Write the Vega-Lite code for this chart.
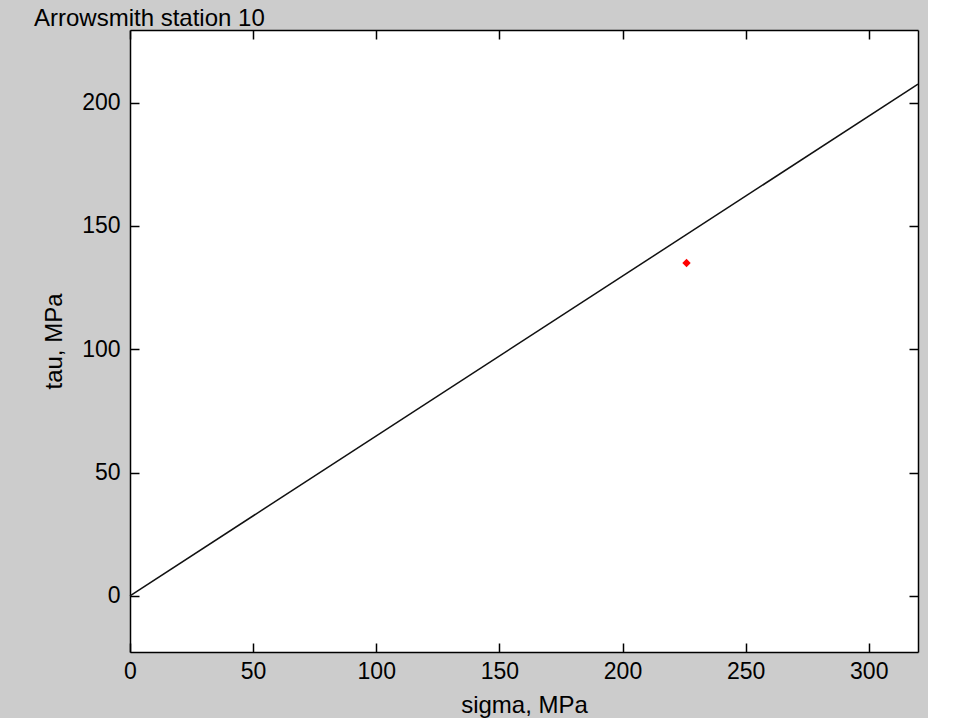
{
  "$schema": "https://vega.github.io/schema/vega-lite/v6.json",
  "width": 788,
  "height": 622,
  "autosize": {"type": "none"},
  "padding": {"left": 130, "top": 30, "right": 10, "bottom": 66},
  "background": "#cccccc",
  "title": {
    "text": "Arrowsmith station 10",
    "anchor": "start",
    "frame": "group",
    "dx": -96,
    "dy": 24,
    "offset": 3,
    "baseline": "alphabetic",
    "font": "Liberation Sans",
    "fontSize": 24,
    "fontWeight": "normal",
    "color": "#000000"
  },
  "config": {
    "view": {"fill": "white", "stroke": null},
    "axis": {
      "grid": false,
      "labelFlush": false,
      "domainColor": "#000000",
      "domainWidth": 1.5,
      "tickColor": "#000000",
      "tickWidth": 1.5,
      "tickSize": -9,
      "labelColor": "#000000",
      "labelFont": "Liberation Sans",
      "labelFontSize": 23,
      "titleFont": "Liberation Sans",
      "titleFontSize": 24,
      "titleFontWeight": "normal",
      "titleColor": "#000000"
    }
  },
  "datasets": {
    "envelope": [
      {"sigma": 0, "tau": 0},
      {"sigma": 320, "tau": 207.5}
    ],
    "station": [
      {"sigma": 226, "tau": 135}
    ]
  },
  "layer": [
    {
      "data": {"name": "envelope"},
      "mark": {"type": "line", "color": "#111111", "strokeWidth": 1.5},
      "encoding": {
        "x": {
          "field": "sigma", "type": "quantitative",
          "scale": {"domain": [0, 320], "nice": false, "zero": false},
          "axis": {"orient": "bottom", "title": "sigma, MPa", "values": [0, 50, 100, 150, 200, 250, 300], "labelPadding": 17, "titleBaseline": "alphabetic", "titleY": 60}
        },
        "y": {
          "field": "tau", "type": "quantitative",
          "scale": {"domain": [-22.8, 229.5], "nice": false, "zero": false},
          "axis": {"orient": "left", "title": "tau, MPa", "values": [0, 50, 100, 150, 200], "labelPadding": 19, "titleBaseline": "alphabetic", "titleX": -69}
        }
      }
    },
    {
      "data": {"name": "station"},
      "mark": {"type": "point", "shape": "diamond", "filled": true, "color": "#ff0000", "size": 70, "opacity": 1},
      "encoding": {
        "x": {
          "field": "sigma", "type": "quantitative",
          "axis": {"orient": "top", "title": null, "labels": false, "values": [0, 50, 100, 150, 200, 250, 300]}
        },
        "y": {
          "field": "tau", "type": "quantitative",
          "axis": {"orient": "right", "title": null, "labels": false, "values": [0, 50, 100, 150, 200]}
        }
      }
    }
  ],
  "resolve": {"axis": {"x": "independent", "y": "independent"}}
}
